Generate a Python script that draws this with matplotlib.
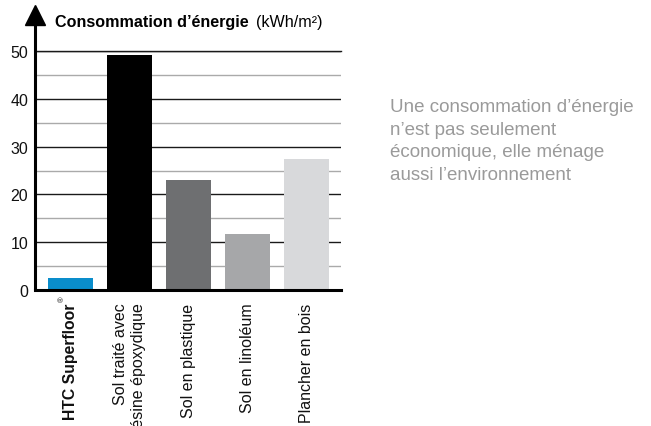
import matplotlib.pyplot as plt
from matplotlib.ticker import MultipleLocator

plt.rcParams['font.family'] = ['Liberation Sans', 'DejaVu Sans']

categories = ["HTC Superfloor", "Sol traité avec\nrésine époxydique",
              "Sol en plastique", "Sol en linoléum", "Plancher en bois"]
values = [2.5, 49.2, 23.0, 11.7, 27.4]
colors = ["#0a8dcb", "#000000", "#6e6f71", "#a6a7a9", "#d8d9db"]

fig = plt.figure(figsize=(6.51, 4.27), dpi=100)
ax = fig.add_axes([35 / 651, 1 - 291 / 427, 306 / 651, 239 / 427])

x = range(len(values))
ax.bar(x, values, width=0.76, color=colors, zorder=3)
ax.set_xlim(-0.6, 4.58)
ax.set_ylim(0, 50)

# grille : traits noirs tous les 10, gris tous les 5
ax.yaxis.set_major_locator(MultipleLocator(10))
ax.yaxis.set_minor_locator(MultipleLocator(5))
ax.grid(axis="y", which="major", color="#1a1a1a", lw=1.0, zorder=1)
ax.grid(axis="y", which="minor", color="#aaaaaa", lw=1.0, zorder=1)
ax.axhline(50, color="#1a1a1a", lw=1.0, zorder=1, clip_on=False)

for s in ["top", "right", "left"]:
    ax.spines[s].set_visible(False)
ax.spines["bottom"].set_linewidth(2.2)
ax.spines["bottom"].set_zorder(4)

# axe vertical avec flèche
ax.plot([-0.6, -0.6], [0, 56], color="black", lw=2.2, clip_on=False, zorder=5,
        solid_capstyle="butt")
ax.plot([-0.6], [57.5], marker="^", markersize=15, color="black",
        clip_on=False, zorder=5)

ax.tick_params(axis="both", which="both", length=0, labelsize=11.5, colors="#111111")
ax.tick_params(axis="y", pad=5)
ax.set_xticks(list(x))
ax.set_xticklabels(categories, rotation=90, va="top", ha="center",
                   multialignment="right")
ax.tick_params(axis="x", pad=9)
lab0 = ax.get_xticklabels()[0]
lab0.set_fontweight("bold")
lab0.set_fontsize(11.3)
# petit ® en exposant
ax.annotate("®", xy=(0, 0), xycoords=("data", "axes fraction"),
            xytext=(-5.5, -4), textcoords="offset points", rotation=90,
            fontsize=5.5, ha="center", va="top", color="#111111")

fig.text(55 / 651, 1 - 27 / 427, "Consommation d’énergie", fontsize=11.6,
         fontweight="bold", va="baseline")
fig.text(256 / 651, 1 - 27 / 427, "(kWh/m²)", fontsize=11.6, va="baseline")

fig.text(390 / 651, 1 - 99 / 427,
         "Une consommation d’énergie\nn’est pas seulement\néconomique, elle ménage\naussi l’environnement",
         fontsize=13.5, color="#9a9a9a", va="top", linespacing=1.44)

fig.savefig("out.png", dpi=100)
